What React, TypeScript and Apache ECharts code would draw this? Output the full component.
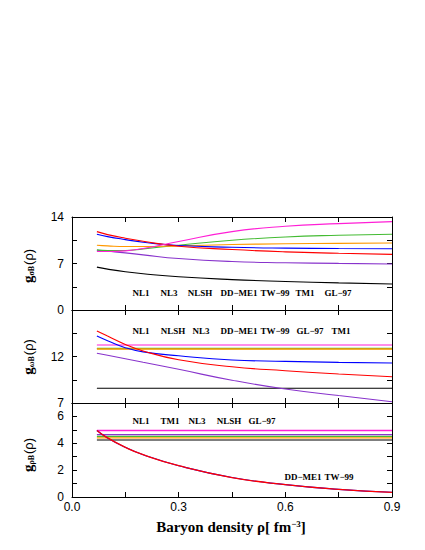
import { useEffect, useRef } from "react";
import * as echarts from "echarts";

// Baryon density sample points (fm^-3)
const X = [0.07, 0.1, 0.15, 0.2, 0.3, 0.45, 0.6, 0.75, 0.9];
const X_FLAT = [0.07, 0.9];

// Panel 1: g_sigmaB(rho)
const sigmaMagenta = [8.8, 8.8, 8.9, 9.25, 10.3, 11.8, 12.6, 13.0, 13.3];
const sigmaGreen = [9.05, 8.95, 8.95, 9.2, 9.75, 10.5, 11.0, 11.25, 11.4];
const sigmaOrange = [9.75, 9.65, 9.55, 9.55, 9.65, 9.85, 9.97, 10.03, 10.08];
const sigmaBlue = [11.4, 11.05, 10.6, 10.2, 9.7, 9.45, 9.32, 9.26, 9.23];
const sigmaRed = [11.8, 11.35, 10.8, 10.35, 9.6, 9.1, 8.75, 8.54, 8.38];
const sigmaPurple = [9.0, 8.85, 8.6, 8.3, 7.75, 7.3, 7.12, 7.02, 6.93];
const sigmaBlack = [6.45, 6.15, 5.75, 5.45, 5.0, 4.58, 4.3, 4.08, 3.92];

// Panel 2: g_omegaB(rho)
const omegaMagenta = [13.24, 13.24];
const omegaGreen = [12.86, 12.86];
const omegaOrange = [12.8, 12.8];
const omegaBlack = [8.58, 8.58];
const omegaRed = [14.75, 14.2, 13.3, 12.6, 11.65, 10.9, 10.47, 10.12, 9.83];
const omegaBlue = [14.2, 13.7, 12.95, 12.5, 12.08, 11.63, 11.48, 11.37, 11.3];
const omegaPurple = [12.35, 12.13, 11.76, 11.38, 10.62, 9.45, 8.5, 7.8, 7.14];

// Panel 3: g_rhoB(rho)
const rhoMagenta = [4.95, 4.95];
const rhoPurple = [4.65, 4.65];
const rhoGreen = [4.52, 4.52];
const rhoOrange = [4.4, 4.4];
const rhoBlack = [4.25, 4.25];
const rhoBlue = [4.95, 4.4, 3.7, 3.15, 2.33, 1.45, 0.92, 0.57, 0.35];
const rhoRed = [4.95, 4.4, 3.7, 3.15, 2.33, 1.45, 0.92, 0.57, 0.35];

// Model labels
const labels1 = ["NL1", "NL3", "NLSH", "DD\u2212ME1", "TW\u221299", "TM1", "GL\u221297"];
const labels2 = ["NL1", "NLSH", "NL3", "DD\u2212ME1", "TW\u221299", "GL\u221297", "TM1"];
const labels3 = ["NL1", "TM1", "NL3", "NLSH", "GL\u221297"];
const labels3b = ["DD\u2212ME1", "TW\u221299"];

// Axis ticks
const xTickLabels = [0.0, 0.3, 0.6, 0.9];
const y1Labels = [0, 7, 14];
const y2Ticks = [7, 9.5, 12, 14.5, 17];
const y2Labels = [7, 12];
const y3Labels = [0, 2, 4, 6];

const C = {
  magenta: "#ff1fd6",
  green: "#44bb33",
  orange: "#ff9900",
  blue: "#0000ff",
  red: "#ff0000",
  purple: "#8833cc",
  black: "#000000",
};

const SANS = "'Liberation Sans', Arial, sans-serif";
const SERIF = "'Liberation Serif', 'Times New Roman', serif";

const LEFT = 72;
const WIDTH = 320;
const tops = [217, 310, 403];
const heights = [93, 93, 94];

function near(v: number, list: number[]) {
  return list.some((l) => Math.abs(l - v) < 1e-6);
}

export default function App() {
  const ref = useRef<HTMLDivElement>(null);

  useEffect(() => {
    if (!ref.current) return;
    const chart = echarts.init(ref.current, undefined, { renderer: "svg" });

    const grids = tops.map((t, i) => ({
      left: LEFT,
      top: t,
      width: WIDTH,
      height: heights[i],
      containLabel: false,
    }));

    const xAxes: any[] = [];
    for (let i = 0; i < 3; i++) {
      for (const pos of ["bottom", "top"]) {
        xAxes.push({
          type: "value",
          gridIndex: i,
          position: pos,
          min: 0,
          max: 0.9,
          interval: 0.15,
          axisLine: { show: true, onZero: false, lineStyle: { color: "#000", width: 1 } },
          axisTick: { show: true, inside: true, length: 5, lineStyle: { color: "#000" } },
          splitLine: { show: false },
          axisLabel: {
            show: i === 2 && pos === "bottom",
            fontFamily: SANS,
            fontSize: 12,
            color: "#000",
            margin: 4,
            formatter: (v: number) => (near(v, xTickLabels) ? v.toFixed(1) : ""),
          },
        });
      }
    }

    const yCfg = [
      { min: 0, max: 14, interval: 3.5, labels: y1Labels },
      { min: 7, max: 17, labels: y2Labels, ticks: y2Ticks },
      { min: 0, max: 7, interval: 1, labels: y3Labels },
    ];
    const yAxes: any[] = [];
    yCfg.forEach((c, i) => {
      for (const pos of ["left", "right"]) {
        const ax: any = {
          type: "value",
          gridIndex: i,
          position: pos,
          min: c.min,
          max: c.max,
          axisLine: { show: true, onZero: false, lineStyle: { color: "#000", width: 1 } },
          axisTick: { show: true, inside: true, length: 5, lineStyle: { color: "#000" } },
          splitLine: { show: false },
          axisLabel: {
            show: pos === "left",
            fontFamily: SANS,
            fontSize: 12,
            color: "#000",
            margin: 8,
            showMaxLabel: true,
            showMinLabel: true,
          },
        };
        if (c.ticks) {
          ax.axisTick.customValues = c.ticks;
          ax.axisLabel.customValues = c.labels;
          ax.axisLabel.formatter = (v: number) => String(v);
        } else {
          ax.interval = c.interval;
          ax.axisLabel.formatter = (v: number) => (near(v, c.labels) ? String(v) : "");
        }
        yAxes.push(ax);
      }
    });

    const mk = (name: string, color: string, xs: number[], ys: number[], panel: number, width = 1.1) => ({
      name,
      type: "line",
      xAxisIndex: panel * 2,
      yAxisIndex: panel * 2,
      data: xs.map((x, j) => [x, ys[j]]),
      showSymbol: false,
      smooth: 0.5,
      lineStyle: { color, width },
      itemStyle: { color },
      silent: true,
    });

    const series = [
      mk("sigma-black", C.black, X, sigmaBlack, 0),
      mk("sigma-purple", C.purple, X, sigmaPurple, 0),
      mk("sigma-green", C.green, X, sigmaGreen, 0),
      mk("sigma-orange", C.orange, X, sigmaOrange, 0),
      mk("sigma-blue", C.blue, X, sigmaBlue, 0),
      mk("sigma-red", C.red, X, sigmaRed, 0),
      mk("sigma-magenta", C.magenta, X, sigmaMagenta, 0),

      mk("omega-black", C.black, X_FLAT, omegaBlack, 1),
      mk("omega-purple", C.purple, X, omegaPurple, 1),
      mk("omega-green", C.green, X_FLAT, omegaGreen, 1, 1.6),
      mk("omega-orange", C.orange, X_FLAT, omegaOrange, 1, 1.4),
      mk("omega-magenta", C.magenta, X_FLAT, omegaMagenta, 1),
      mk("omega-blue", C.blue, X, omegaBlue, 1),
      mk("omega-red", C.red, X, omegaRed, 1),

      mk("rho-black", C.black, X_FLAT, rhoBlack, 2),
      mk("rho-orange", C.orange, X_FLAT, rhoOrange, 2, 1.4),
      mk("rho-green", C.green, X_FLAT, rhoGreen, 2, 1.2),
      mk("rho-purple", C.purple, X_FLAT, rhoPurple, 2, 1.2),
      mk("rho-magenta", C.magenta, X_FLAT, rhoMagenta, 2, 1.4),
      mk("rho-blue", C.blue, X, rhoBlue, 2),
      mk("rho-red", C.red, X, rhoRed, 2, 1.3),
    ];

    const labelStyle = { fontFamily: SERIF, fontSize: 9, fontWeight: "bold", fill: "#000" };
    const mkLabels = (names: string[], xs: number[], y: number) =>
      names.map((t, i) => ({
        type: "text",
        x: xs[i],
        y,
        silent: true,
        style: { ...labelStyle, text: t, textAlign: "center", textVerticalAlign: "middle" },
      }));

    const yTitle = (sub: string, y: number) => ({
      type: "text",
      x: 28,
      y,
      rotation: Math.PI / 2,
      silent: true,
      style: {
        text: `{g|g}{s|${sub}}{p|(\u03c1)}`,
        textAlign: "center",
        textVerticalAlign: "middle",
        rich: {
          g: { fontFamily: SERIF, fontWeight: "bold", fontSize: 15, fill: "#000", verticalAlign: "middle" },
          s: { fontFamily: SERIF, fontWeight: "bold", fontSize: 8, fill: "#000", verticalAlign: "bottom", padding: [0, 1, 0, 0] },
          p: { fontFamily: SANS, fontSize: 13, fill: "#000", verticalAlign: "middle" },
        },
      },
    });

    const graphic: any[] = [
      ...mkLabels(labels1, [141, 169, 200, 239, 275, 305, 338], 293),
      ...mkLabels(labels2, [141, 173, 201, 239, 275, 310, 341], 331),
      ...mkLabels(labels3, [141, 170, 197, 229, 262], 421),
      ...mkLabels(labels3b, [303, 339], 477),
      yTitle("\u03c3B", 266),
      yTitle("\u03c9B", 357),
      yTitle("\u03c1B", 455),
      {
        type: "text",
        x: 231,
        y: 527,
        silent: true,
        style: {
          text: "{a|Baryon density \u03c1[ fm}{b|\u22123}{a|]}",
          textAlign: "center",
          textVerticalAlign: "middle",
          rich: {
            a: { fontFamily: SERIF, fontWeight: "bold", fontSize: 15, fill: "#000", verticalAlign: "bottom" },
            b: { fontFamily: SERIF, fontWeight: "bold", fontSize: 9, fill: "#000", verticalAlign: "top" },
          },
        },
      },
    ];

    chart.setOption({
      animation: false,
      backgroundColor: "#ffffff",
      grid: grids,
      xAxis: xAxes,
      yAxis: yAxes,
      series,
      graphic,
    });

    return () => chart.dispose();
  }, []);

  return (
    <div
      ref={ref}
      style={{ position: "absolute", left: 0, top: 0, width: 425, height: 550, background: "#fff" }}
    />
  );
}
